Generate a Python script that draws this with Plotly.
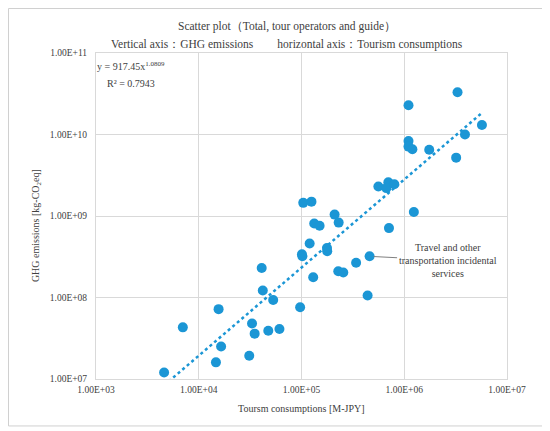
import math
import plotly.graph_objects as go

# Tourism consumption [M-JPY] vs GHG emissions [kg-CO2eq]
consumption = [
    4.6e3, 7.0e3, 1.56e4, 1.65e4, 1.47e4, 4.1e4, 4.2e4, 5.3e4, 3.3e4, 3.5e4,
    4.75e4, 6.1e4, 3.1e4, 9.7e4, 1.01e5, 1.02e5, 1.3e5, 1.04e5, 1.25e5, 2.1e5,
    1.33e5, 1.5e5, 2.3e5, 7.1e5, 1.24e6, 1.2e5, 1.77e5, 1.78e5, 3.4e5, 4.6e5,
    2.28e5, 2.55e5, 4.4e5, 3.3e6, 1.1e6, 5.7e6, 3.9e6, 1.1e6, 1.1e6, 1.2e6,
    1.75e6, 3.2e6, 5.6e5, 7.0e5, 6.7e5, 8.0e5,
]
emissions = [
    1.2e7, 4.3e7, 7.2e7, 2.5e7, 1.6e7, 2.3e8, 1.22e8, 9.3e7, 4.8e7, 3.6e7,
    3.9e7, 4.1e7, 1.93e7, 7.6e7, 3.4e8, 3.2e8, 1.77e8, 1.45e9, 1.5e9, 1.04e9,
    8.1e8, 7.6e8, 8.3e8, 7.1e8, 1.12e9, 4.6e8, 4.05e8, 3.7e8, 2.67e8, 3.2e8,
    2.1e8, 2.03e8, 1.06e8, 3.3e10, 2.28e10, 1.31e10, 1.0e10, 8.3e9, 7.1e9, 6.6e9,
    6.5e9, 5.2e9, 2.3e9, 2.6e9, 2.2e9, 2.45e9,
]
labelled_index = 29
labelled_text = "Travel and other<br>transportation incidental<br>services"

# power trendline y = a * x^b
coef_a = 917.45
coef_b = 1.0809
r_squared = 0.7943

x_ticks = [1e3, 1e4, 1e5, 1e6, 1e7]
x_tick_text = ["1.00E+03", "1.00E+04", "1.00E+05", "1.00E+06", "1.00E+07"]
y_ticks = [1e7, 1e8, 1e9, 1e10, 1e11]
y_tick_text = ["1.00E+07", "1.00E+08", "1.00E+09", "1.00E+10", "1.00E+11"]

BLUE = "#1b96d5"
GRID = "#d9d9d9"
FONT = "Liberation Serif"

# trendline evaluated over the data range (log-spaced)
lo, hi = math.log10(min(consumption)), math.log10(max(consumption))
trend_x = [10 ** (lo + (hi - lo) * i / 100) for i in range(101)]
trend_y = [coef_a * v ** coef_b for v in trend_x]

fig = go.Figure()

fig.add_trace(go.Scatter(
    x=trend_x, y=trend_y, mode="lines",
    line=dict(color=BLUE, width=2.5, dash="dot"),
    hoverinfo="skip",
))
fig.add_trace(go.Scatter(
    x=consumption, y=emissions, mode="markers",
    marker=dict(color=BLUE, size=10),
))

fig.update_xaxes(
    type="log", range=[3, 7],
    tickvals=x_ticks, ticktext=x_tick_text,
    showgrid=True, gridcolor=GRID, gridwidth=1,
    showline=True, linecolor=GRID, mirror=True,
    zeroline=False, ticks="", ticklabelstandoff=2,
    tickfont=dict(family=FONT, size=9.5, color="#404040"),
)
fig.update_yaxes(
    type="log", range=[7, 11],
    tickvals=y_ticks, ticktext=y_tick_text,
    showgrid=True, gridcolor=GRID, gridwidth=1,
    showline=True, linecolor=GRID, mirror=True,
    zeroline=False, ticks="", ticklabelstandoff=6,
    tickfont=dict(family=FONT, size=9.5, color="#404040"),
)

# page body adds an 8px offset, so the figure is sized 8px smaller
text_font = dict(family=FONT, size=10, color="#404040")
fig.update_layout(
    width=542, height=423,
    margin=dict(l=88, r=43, t=45, b=52),
    paper_bgcolor="white", plot_bgcolor="white",
    showlegend=False,
    annotations=[
        dict(text="Scatter plot（Total, tour operators and guide）",
             xref="paper", yref="paper", x=0.465, y=1.08,
             xanchor="center", yanchor="middle", showarrow=False,
             font=dict(family=FONT, size=11.5, color="#404040")),
        dict(text="Vertical axis：GHG emissions　　horizontal axis：Tourism consumptions",
             xref="paper", yref="paper", x=0.465, y=1.025,
             xanchor="center", yanchor="middle", showarrow=False,
             font=dict(family=FONT, size=11.5, color="#404040")),
        dict(text=f"y = {coef_a}x<sup>{coef_b}</sup>",
             xref="paper", yref="paper", x=-0.003, y=0.96,
             xanchor="left", yanchor="middle", showarrow=False, font=text_font),
        dict(text=f"R² = {r_squared}",
             xref="paper", yref="paper", x=0.022, y=0.905,
             xanchor="left", yanchor="middle", showarrow=False, font=text_font),
        dict(text="Toursm consumptions [M-JPY]",
             xref="paper", yref="paper", x=0.5, y=-0.092,
             xanchor="center", yanchor="middle", showarrow=False, font=text_font),
        dict(text="GHG emissions [kg-CO<sub>2</sub>eq]",
             xref="paper", yref="paper", x=-0.146, y=0.472, textangle=-90,
             xanchor="center", yanchor="middle", showarrow=False, font=text_font),
        dict(text=labelled_text,
             x=math.log10(consumption[labelled_index]),
             y=math.log10(emissions[labelled_index]),
             ax=78, ay=4, showarrow=True, arrowhead=0,
             arrowcolor="#808080", arrowwidth=1, standoff=4,
             align="center", font=text_font),
    ],
    shapes=[
        dict(type="rect", xref="paper", yref="paper",
             x0=-0.2129, x1=1.0925, y0=-0.144, y1=1.1365,
             line=dict(color="#d0d0d0", width=1)),
    ],
)

fig.write_html("out.html")
